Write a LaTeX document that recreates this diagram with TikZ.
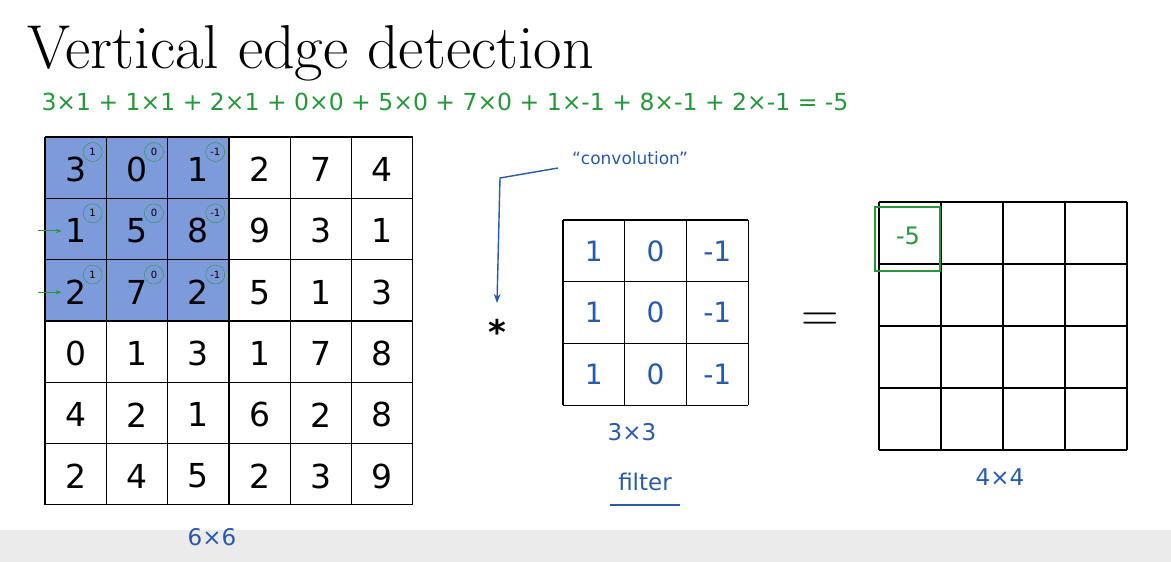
\documentclass[tikz,border=0pt]{standalone}
\usepackage{fontspec}
\setsansfont{DejaVu Sans}
\usetikzlibrary{arrows.meta}
\definecolor{hblue}{RGB}{40,90,170}
\definecolor{hgreen}{RGB}{40,150,60}
\definecolor{cellblue}{RGB}{125,155,218}
\tikzset{
 grid/.style={draw=black,line width=1.2pt},
 num/.style={font=\sffamily\fontsize{33}{35}\selectfont},
 fnum/.style={font=\sffamily\fontsize{28}{30}\selectfont,text=hblue},
 hand/.style={font=\sffamily\fontsize{23}{25}\selectfont,text=hblue},
 circ/.style={draw=hgreen,circle,inner sep=0.5pt,minimum size=19pt,font=\sffamily\fontsize{10}{11}\selectfont,text=black}
}
\begin{document}
\begin{tikzpicture}[x=1pt,y=-1pt]
\useasboundingbox (0,0) rectangle (1171,562);
\fill[white] (0,0) rectangle (1171,562);
\fill[black!8] (0,530) rectangle (1171,562);
\node[anchor=base west,font=\fontsize{62}{64}\selectfont] (title) at (24,68) {Vertical edge detection};
\node[anchor=base west,font=\sffamily\fontsize{23.5}{25}\selectfont,text=hgreen] (eq) at (38,110)
 {3×1 + 1×1 + 2×1 + 0×0 + 5×0 + 7×0 + 1×-1 + 8×-1 + 2×-1 = -5};
% input
\def\cw{61.3}
\fill[cellblue] (45,137) rectangle (229,320);
\foreach \i in {0,...,6}{
 \draw[grid] (45+\i*\cw,137) -- (45+\i*\cw,505);
 \draw[grid] (45,137+\i*\cw) -- (413,137+\i*\cw);}
\foreach \row [count=\r from 0] in {{3,0,1,2,7,4},{1,5,8,9,3,1},{2,7,2,5,1,3},{0,1,3,1,7,8},{4,2,1,6,2,8},{2,4,5,2,3,9}}{
 \foreach \v [count=\c from 0] in \row
  \node[num] (in\r\c) at (45+\c*\cw+\cw/2,137+\r*\cw+\cw/2+2) {\v};}
\foreach \r in {0,1,2}{
 \foreach \k/\c in {1/0,0/1,-1/2}
  \node[circ] (k\r\c) at (45+\c*\cw+\cw/2+17,137+\r*\cw+15) {\k};}
\foreach \r in {1,2}
 \draw[hgreen,line width=1pt,-{Stealth[length=6pt]}] (in\r0.west) ++(-24,0) coordinate (ga\r) -- (in\r0.west);
\node[hand] (l6) at (212,537) {6×6};
% filter
\def\fw{61.7}
\foreach \i in {0,...,3}{
 \draw[grid] (563+\i*\fw,220) -- (563+\i*\fw,405);
 \draw[grid] (563,220+\i*\fw) -- (748,220+\i*\fw);}
\foreach \r in {0,1,2}{
 \foreach \v [count=\c from 0] in {1,0,-1}
  \node[fnum] (f\r\c) at (563+\c*\fw+\fw/2,220+\r*\fw+\fw/2) {\v};}
\node[hand] (l3) at (632,432) {3×3};
\node[hand] (lf) at (645,482) {filter};
\draw[hblue,line width=1.4pt] (610,505) -- (680,505);
\node[font=\sffamily\fontsize{17}{19}\selectfont,text=hblue] (conv) at (630,158) {``convolution''};
\node[font=\sffamily\bfseries\fontsize{34}{36}\selectfont] (star) at (497,332) {*};
\coordinate (c1) at (558,168);
\draw[hblue,line width=1.4pt,-{Stealth[length=9pt]}] (c1) -- (500,178) -- (497,303);
\node[font=\fontsize{52}{54}\selectfont] (eqs) at (820,322) {=};
% output
\def\ow{62}
\foreach \i in {0,...,4}{
 \draw[grid] (879+\i*\ow,202) -- (879+\i*\ow,450);
 \draw[grid] (879,202+\i*\ow) -- (1127,202+\i*\ow);}
\node[font=\sffamily\fontsize{24}{26}\selectfont,text=hgreen] (o00) at (908,236) {-5};
\draw[hgreen,line width=1.4pt] (875,207) rectangle (940,271);
\node[hand] (l4) at (1000,477) {4×4};
\end{tikzpicture}
\end{document}
